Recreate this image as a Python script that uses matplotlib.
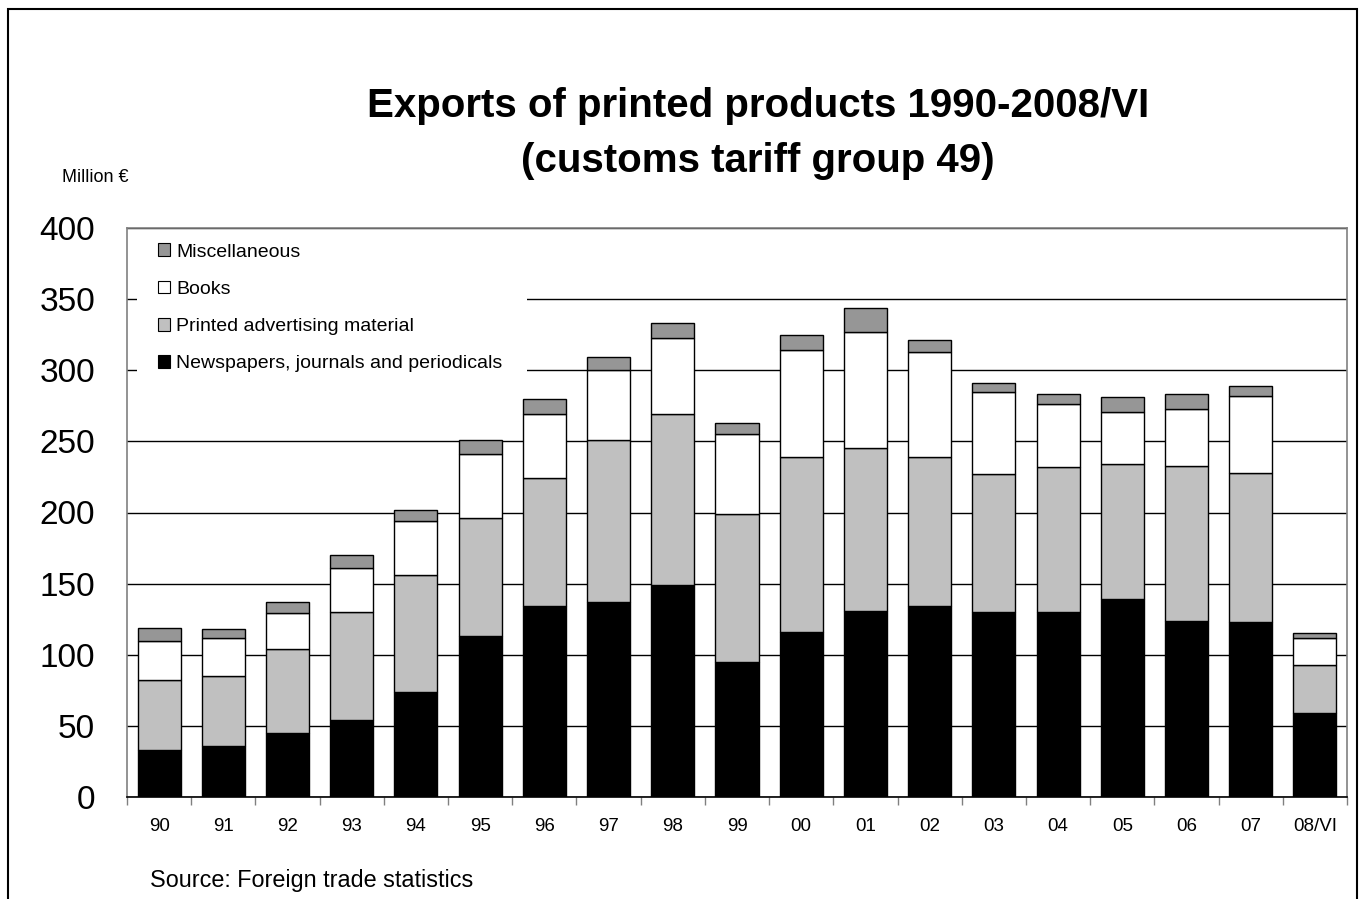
import matplotlib
matplotlib.use("Agg")
import matplotlib.pyplot as plt
import matplotlib.patches as mpatches
import numpy as np

plt.rcParams['font.family'] = ['Liberation Sans', 'DejaVu Sans']

years = ['90', '91', '92', '93', '94', '95', '96', '97', '98', '99',
         '00', '01', '02', '03', '04', '05', '06', '07', '08/VI']

# Million euro per category
newspapers = [33, 36, 45, 54, 74, 113, 134, 137, 149, 95,
              116, 131, 134, 130, 130, 139, 124, 123, 59]
advertising = [49, 49, 59, 76, 82, 83, 90, 114, 120, 104,
               123, 114, 105, 97, 102, 95, 109, 105, 34]
books = [28, 27, 25, 31, 38, 45, 45, 49, 54, 56,
         75, 82, 74, 58, 44, 37, 40, 54, 19]
misc = [9, 6, 8, 9, 8, 10, 11, 9, 10, 8,
        11, 17, 8, 6, 7, 10, 10, 7, 3]

labels = ['Newspapers, journals and periodicals', 'Printed advertising material',
          'Books', 'Miscellaneous']
colors = ['#000000', '#c0c0c0', '#ffffff', '#969696']

fig = plt.figure(figsize=(13.62, 8.99), dpi=100)
ax = fig.add_axes([127 / 1362, 1 - 797 / 899, 1220 / 1362, 569 / 899])

x = np.arange(len(years))
bottom = np.zeros(len(years))
for vals, col, lab in zip([newspapers, advertising, books, misc], colors, labels):
    ax.bar(x, vals, width=0.67, bottom=bottom, color=col, edgecolor='black',
           linewidth=1.0, label=lab, zorder=3)
    bottom += np.array(vals)

ax.set_xlim(-0.5, len(years) - 0.5)
ax.set_ylim(0, 400)
ax.set_yticks(range(0, 401, 50))
ax.yaxis.grid(True, color='black', linewidth=1.0)
ax.set_axisbelow(True)
ax.tick_params(axis='y', length=0, pad=23, labelsize=24)

ax.set_xticks(x)
ax.set_xticklabels(years)
ax.set_xticks(np.arange(-0.5, len(years)), minor=True)
ax.tick_params(axis='x', which='major', length=0, pad=15, labelsize=13.5)
ax.tick_params(axis='x', which='minor', length=6, color='#808080', width=1)

for side in ['top', 'right', 'left']:
    ax.spines[side].set_color('#808080')
    ax.spines[side].set_linewidth(1.2)
ax.spines['bottom'].set_color('black')
ax.spines['bottom'].set_linewidth(1.2)

# white box behind the legend hides the grid lines there
ax.add_patch(mpatches.Rectangle((0.008, 0.735), 0.32, 0.262, transform=ax.transAxes,
                                facecolor='white', edgecolor='none', zorder=1))

handles = [mpatches.Patch(facecolor=c, edgecolor='black', linewidth=0.8, label=l)
           for c, l in zip(colors, labels)][::-1]
ax.legend(handles=handles, loc='upper left', bbox_to_anchor=(0.025, 0.973),
          frameon=False, fontsize=14, handlelength=0.65, handleheight=0.65,
          handletextpad=0.3, labelspacing=1.02, borderpad=0, borderaxespad=0)

fig.text(758 / 1362, 1 - 106 / 899, 'Exports of printed products 1990-2008/VI',
         ha='center', va='center', fontsize=29, fontweight='bold')
fig.text(758 / 1362, 1 - 161 / 899, '(customs tariff group 49)',
         ha='center', va='center', fontsize=29, fontweight='bold')
fig.text(62 / 1362, 1 - 177 / 899, 'Million €', ha='left', va='center', fontsize=13)
fig.text(150 / 1362, 1 - 881 / 899, 'Source: Foreign trade statistics',
         ha='left', va='center', fontsize=16.8)

# outer frame
fig.patches.append(mpatches.Rectangle((8 / 1362, -0.1), 1349 / 1362, 1.1 - 9 / 899,
                                      transform=fig.transFigure, fill=False,
                                      edgecolor='black', linewidth=1.5))

fig.savefig('out.png', dpi=100)
